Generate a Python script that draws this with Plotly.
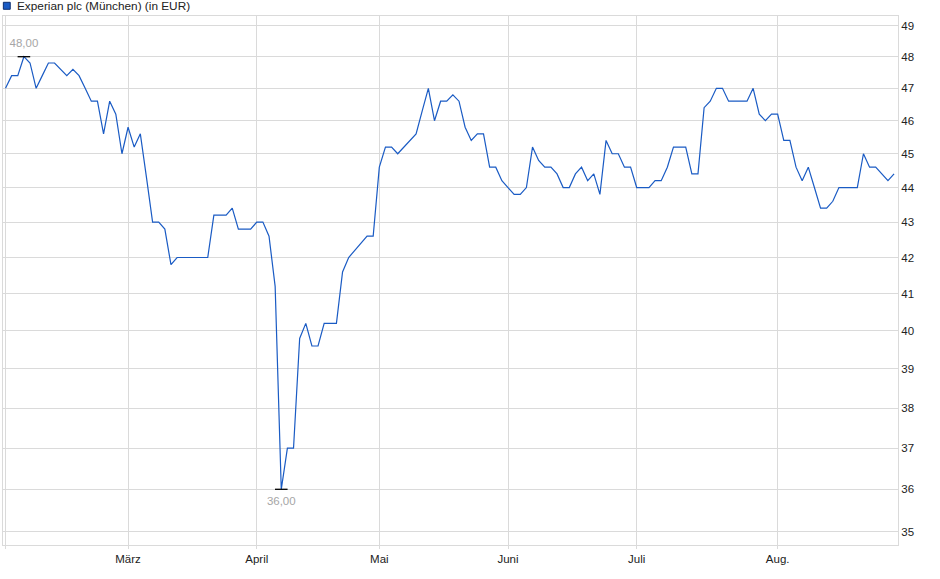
import numpy as np
import pandas as pd
import plotly.graph_objects as go

# trading days (Munich), Feb 3 - Aug 28 2025, exchange holidays removed
holidays = ['2025-04-18', '2025-04-21', '2025-05-01']
days = pd.bdate_range('2025-02-03', '2025-08-28')
days = [d.strftime('%Y-%m-%d') for d in days if d.strftime('%Y-%m-%d') not in holidays]

prices = [
    47.0, 47.4, 47.4, 48.0, 47.8, 47.0, 47.4, 47.8, 47.8, 47.6,
    47.4, 47.6, 47.4, 47.0, 46.6, 46.6, 45.6, 46.6, 46.2, 45.0,
    45.8, 45.2, 45.6, 44.3, 43.0, 43.0, 42.8, 41.8, 42.0, 42.0,
    42.0, 42.0, 42.0, 42.0, 43.2, 43.2, 43.2, 43.4, 42.8, 42.8,
    42.8, 43.0, 43.0, 42.6, 41.2, 36.0, 37.0, 37.0, 39.8, 40.2,
    39.6, 39.6, 40.2, 40.2, 40.2, 41.6, 42.0, 42.2, 42.4, 42.6,
    42.6, 44.6, 45.2, 45.2, 45.0, 45.2, 45.4, 45.6, 46.3, 47.0,
    46.0, 46.6, 46.6, 46.8, 46.6, 45.8, 45.4, 45.6, 45.6, 44.6,
    44.6, 44.2, 44.0, 43.8, 43.8, 44.0, 45.2, 44.8, 44.6, 44.6,
    44.4, 44.0, 44.0, 44.4, 44.6, 44.2, 44.4, 43.8, 45.4, 45.0,
    45.0, 44.6, 44.6, 44.0, 44.0, 44.0, 44.2, 44.2, 44.6, 45.2,
    45.2, 45.2, 44.4, 44.4, 46.4, 46.6, 47.0, 47.0, 46.6, 46.6,
    46.6, 46.6, 47.0, 46.2, 46.0, 46.2, 46.2, 45.4, 45.4, 44.6,
    44.2, 44.6, 44.0, 43.4, 43.4, 43.6, 44.0, 44.0, 44.0, 44.0,
    45.0, 44.6, 44.6, 44.4, 44.2, 44.4,
]

month_days = ['2025-02-03', '2025-03-03', '2025-04-01', '2025-05-02', '2025-06-02', '2025-07-01', '2025-08-01']
month_labels = ['', 'März', 'April', 'Mai', 'Juni', 'Juli', 'Aug.']
y_ticks = list(range(35, 50))

blue = '#1a5bc4'
grid = '#dadada'
font = 'Liberation Sans, Arial, sans-serif'

i_max = int(np.argmax(prices))
i_min = int(np.argmin(prices))

fig = go.Figure()
fig.add_trace(go.Scatter(x=days, y=prices, mode='lines',
                         line=dict(color=blue, width=1.2),
                         name='Experian plc (München) (in EUR)', showlegend=False))
fig.add_trace(go.Scatter(
    x=[days[i_max], days[i_min]], y=[prices[i_max], prices[i_min]],
    mode='markers+text',
    marker=dict(symbol='line-ew', size=9, line=dict(width=1.3, color='black')),
    text=[f'{prices[i_max]:.2f}'.replace('.', ','), f'{prices[i_min]:.2f}'.replace('.', ',')],
    textposition=['top center', 'bottom center'],
    textfont=dict(color='#a6a6a6', size=11.5, family=font),
    showlegend=False, hoverinfo='skip'))

# legend box drawn by hand (square + label)
fig.add_shape(type='rect', xref='paper', yref='paper',
              x0=0.0004, x1=0.0081, y0=1.0127, y1=1.0259,
              fillcolor=blue, line=dict(color='#0d2f6e', width=1))
fig.add_annotation(xref='paper', yref='paper', x=0.0134, y=1.0185,
                   xanchor='left', yanchor='middle', showarrow=False,
                   text='Experian plc (München) (in EUR)',
                   font=dict(size=11.8, color='#222222', family=font))

fig.update_layout(
    width=940, height=579,
    margin=dict(l=3, r=42, t=16, b=34),
    paper_bgcolor='white', plot_bgcolor='white',
    font=dict(family=font, size=11, color='#222222'),
)
fig.update_xaxes(type='category', range=[-0.41, 145.64],
                 tickmode='array', tickvals=month_days, ticktext=month_labels,
                 showgrid=True, gridcolor=grid, gridwidth=1,
                 showline=True, linecolor=grid, mirror=True,
                 ticks='outside', ticklen=3, tickcolor=grid,
                 tickfont=dict(size=11.5, color='#222222'))
fig.update_yaxes(type='log', range=[1.540216, 1.692996], side='right',
                 tickmode='array', tickvals=y_ticks, ticktext=[str(v) for v in y_ticks],
                 showgrid=True, gridcolor=grid, gridwidth=1,
                 showline=True, linecolor=grid, mirror=True,
                 ticks='', zeroline=False,
                 tickfont=dict(size=11.5, color='#222222'))

fig.write_html('out.html', config={'displayModeBar': False},
               post_script="document.body.style.margin='0';")
